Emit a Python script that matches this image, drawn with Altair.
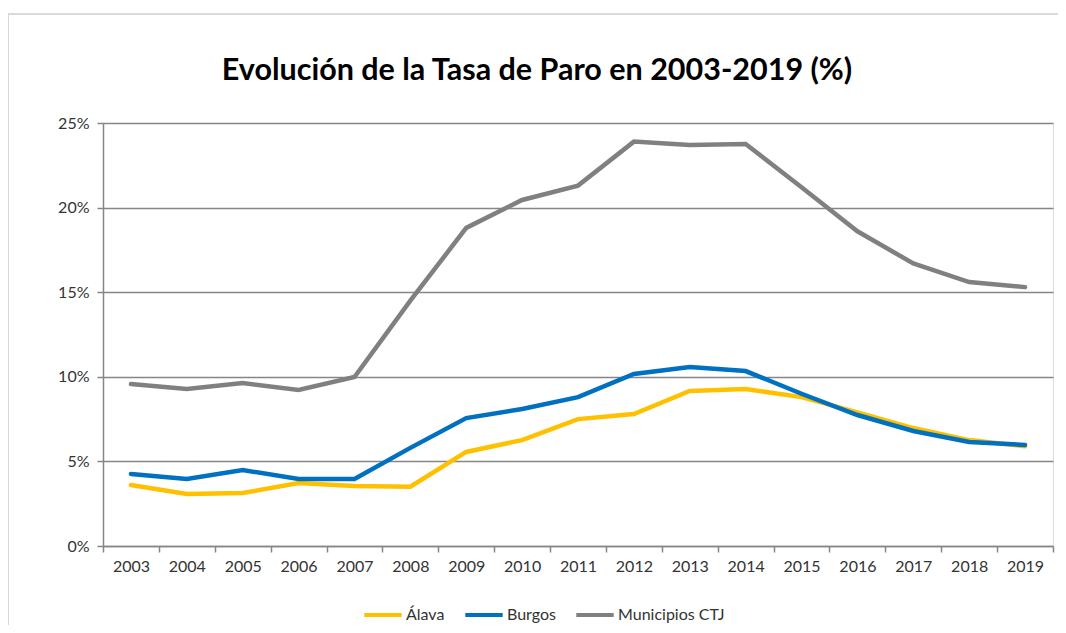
import altair as alt
import pandas as pd

years = [str(y) for y in range(2003, 2020)]
alava = [3.6, 3.07, 3.13, 3.72, 3.55, 3.5, 5.56, 6.26, 7.5, 7.8, 9.16, 9.28, 8.8, 7.9, 6.97, 6.26, 5.9]
burgos = [4.26, 3.96, 4.49, 3.96, 3.96, 5.8, 7.56, 8.1, 8.8, 10.17, 10.58, 10.34, 9.0, 7.74, 6.8, 6.15, 5.97]
ctj = [9.57, 9.28, 9.63, 9.22, 9.99, 14.5, 18.8, 20.45, 21.3, 23.9, 23.7, 23.76, 21.2, 18.6, 16.7, 15.6, 15.3]

series = ["Álava", "Burgos", "Municipios CTJ"]
colors = ["#FFC000", "#0070C0", "#808080"]

rows = []
for name, vals in zip(series, [alava, burgos, ctj]):
    for y, v in zip(years, vals):
        rows.append({"Año": y, "Serie": name, "Tasa": v / 100.0})
df = pd.DataFrame(rows)

font = "Lato"
axis_color = "#868686"
text_color = "#333333"
frame_color = "#d9d9d9"

lines = alt.Chart(df).mark_line(strokeWidth=4.5, strokeCap="round").encode(
    x=alt.X("Año:N", bandPosition=0.5,
            scale=alt.Scale(type="band", paddingInner=0, paddingOuter=0, domain=years),
            axis=alt.Axis(title=None, labelAngle=0, tickBand="extent", labelFontSize=16,
                          labelFont=font, labelColor=text_color, labelPadding=6,
                          domainColor=axis_color, domainWidth=1.5, tickColor=axis_color,
                          tickWidth=1.5, tickSize=6, grid=False)),
    y=alt.Y("Tasa:Q",
            scale=alt.Scale(domain=[0, 0.25], nice=False),
            axis=alt.Axis(title=None, format=".0%", values=[0, 0.05, 0.10, 0.15, 0.20, 0.25],
                          labelFontSize=16, labelFont=font, labelColor=text_color, labelPadding=8,
                          domainColor=axis_color, domainWidth=1.5, tickColor=axis_color,
                          tickWidth=1.5, tickSize=6, grid=True, gridColor=axis_color,
                          gridWidth=1.5)),
    color=alt.Color("Serie:N",
                    scale=alt.Scale(domain=series, range=colors),
                    legend=alt.Legend(title=None, orient="none", direction="horizontal",
                                      legendX=259, legendY=471, symbolType="stroke",
                                      symbolSize=1400, symbolStrokeWidth=4,
                                      labelFontSize=16, labelFont=font, labelColor=text_color,
                                      columnPadding=12, labelOffset=2)),
    order=alt.Order("Serie:N"),
)

frame_top = alt.Chart().mark_rule(color=frame_color, strokeWidth=1.5).encode(
    x=alt.value(-95), x2=alt.value(965), y=alt.value(-109))
frame_left = alt.Chart().mark_rule(color=frame_color, strokeWidth=1.5).encode(
    x=alt.value(-95), y=alt.value(-109), y2=alt.value(520))

chart = alt.layer(frame_top, frame_left, lines, data=df).properties(
    width=950,
    height=423,
    padding={"left": 95, "top": 115, "right": 5, "bottom": 79},
    autosize=alt.AutoSizeParams(type="none"),
    title=alt.TitleParams("Evolución de la Tasa de Paro en 2003-2019 (%)", fontSize=30.5,
                          font=font, fontWeight="bold", color="#000000", offset=-73, dx=-41,
                          anchor="middle"),
).configure_view(stroke=None).configure(background="white")

chart.save("out.html", embed_options={"renderer": "svg", "actions": False})
